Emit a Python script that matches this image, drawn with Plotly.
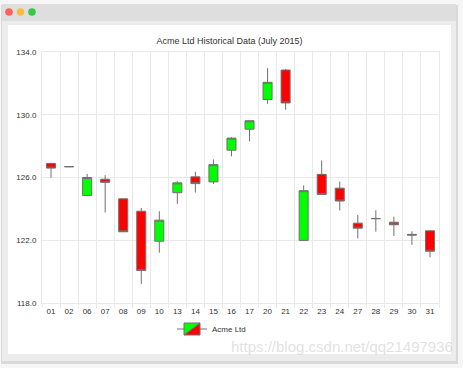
import plotly.graph_objects as go

# ---- data (Acme Ltd, July 2015) ----
days = ["01", "02", "06", "07", "08", "09", "10", "13", "14", "15", "16",
        "17", "20", "21", "22", "23", "24", "27", "28", "29", "30", "31"]
open_ = [126.90, 126.69, 124.85, 125.89, 124.64, 123.85, 121.94, 125.03, 126.04, 125.72, 127.74,
         129.08, 130.97, 132.85, 121.99, 126.20, 125.32, 123.09, 123.38, 123.15, 122.32, 122.60]
high = [126.94, 126.69, 126.23, 126.15, 124.64, 124.06, 123.85, 125.76, 126.37, 127.15, 128.57,
        129.62, 132.97, 132.92, 125.50, 127.09, 125.74, 123.61, 123.91, 123.50, 122.57, 122.64]
low = [125.99, 126.69, 124.85, 123.77, 122.54, 119.22, 121.21, 124.32, 125.04, 125.58, 127.35,
       128.31, 130.70, 130.32, 121.99, 124.92, 123.90, 122.12, 122.55, 122.27, 121.71, 120.91]
close = [126.60, 126.69, 126.00, 125.69, 122.54, 120.07, 123.28, 125.66, 125.61, 126.82, 128.51,
         129.62, 132.07, 130.75, 125.16, 124.92, 124.50, 122.77, 123.38, 122.99, 122.37, 121.30]
y_ticks = [118, 122, 126, 130, 134]

W, H = 463, 368
L, R, T, B = 42, 439, 52, 303


def px(x):
    return (x - L) / (R - L)


def py(y):
    return (B - y) / (B - T)


FONT = "Liberation Sans, Helvetica, Arial, sans-serif"
GRID = "#e9e9e9"

fig = go.Figure()
fig.add_trace(go.Candlestick(
    x=days, open=open_, high=high, low=low, close=close,
    name="Acme Ltd",
    increasing=dict(fillcolor="#00ff00", line=dict(color="#707070", width=1)),
    decreasing=dict(fillcolor="#ff0000", line=dict(color="#707070", width=1)),
    whiskerwidth=0,
    hoverinfo="x+y",
))

shapes = [
    # window shadow
    dict(type="rect", xref="paper", yref="paper", x0=px(1), x1=px(458), y0=py(5), y1=py(364),
         fillcolor="#d9d9d9", line=dict(width=0), layer="below"),
    # window frame
    dict(type="rect", xref="paper", yref="paper", x0=px(2), x1=px(456), y0=py(4), y1=py(361),
         fillcolor="#ececec", line=dict(width=0), layer="below"),
    # title bar
    dict(type="rect", xref="paper", yref="paper", x0=px(2), x1=px(456), y0=py(4), y1=py(21),
         fillcolor="#dedede", line=dict(width=0), layer="below"),
    # chart white area
    dict(type="rect", xref="paper", yref="paper", x0=px(8), x1=px(451), y0=py(25), y1=py(354),
         fillcolor="#ffffff", line=dict(width=0), layer="below"),
]
for cx, col in [(9, "#fc605b"), (20.5, "#fdbc40"), (32, "#34c84a")]:
    shapes.append(dict(type="circle", xref="paper", yref="paper",
                       x0=px(cx - 3.8), x1=px(cx + 3.8), y0=py(12 - 3.8), y1=py(12 + 3.8),
                       fillcolor=col, line=dict(width=0), layer="below"))

fig.update_layout(
    width=W, height=H,
    margin=dict(l=L, r=W - R, t=T, b=H - B),
    paper_bgcolor="#f6f6f6",
    plot_bgcolor="#ffffff",
    shapes=shapes,
    boxgap=0.5, boxgroupgap=0,
    font=dict(family=FONT, size=8, color="#333333"),
    title=dict(text="Acme Ltd Historical Data (July 2015)", x=229.5 / W, xanchor="center",
               y=1 - 41 / H, yanchor="middle", font=dict(size=9, color="#333333")),
    xaxis=dict(type="category", range=[-0.5, len(days) - 0.5], tickson="boundaries",
               showgrid=True, gridcolor=GRID, gridwidth=1, tickangle=0,
               ticks="outside", ticklen=4, tickcolor=GRID,
               showline=True, mirror=True, linecolor=GRID,
               rangeslider=dict(visible=False), tickfont=dict(size=8, color="#333333"),
               fixedrange=True),
    yaxis=dict(range=[118, 134], tickvals=y_ticks, tickformat=".1f",
               showgrid=True, gridcolor=GRID, gridwidth=1, zeroline=False,
               showline=True, mirror=True, linecolor=GRID, ticks="",
               ticklabelstandoff=3, tickfont=dict(size=8, color="#333333"), fixedrange=True),
    showlegend=True,
    legend=dict(orientation="h", x=px(172), xanchor="left", y=py(329), yanchor="middle",
                bgcolor="rgba(0,0,0,0)", font=dict(size=8, color="#333333")),
    annotations=[dict(text="https://blog.csdn.net/qq21497936", xref="paper", yref="paper",
                      x=px(455), y=py(346), xanchor="right", yanchor="middle", showarrow=False,
                      font=dict(size=15, color="rgba(195,195,195,0.5)", family=FONT))],
)

fig.write_html("out.html", config={"displayModeBar": False},
               post_script="document.body.style.margin='0';")
